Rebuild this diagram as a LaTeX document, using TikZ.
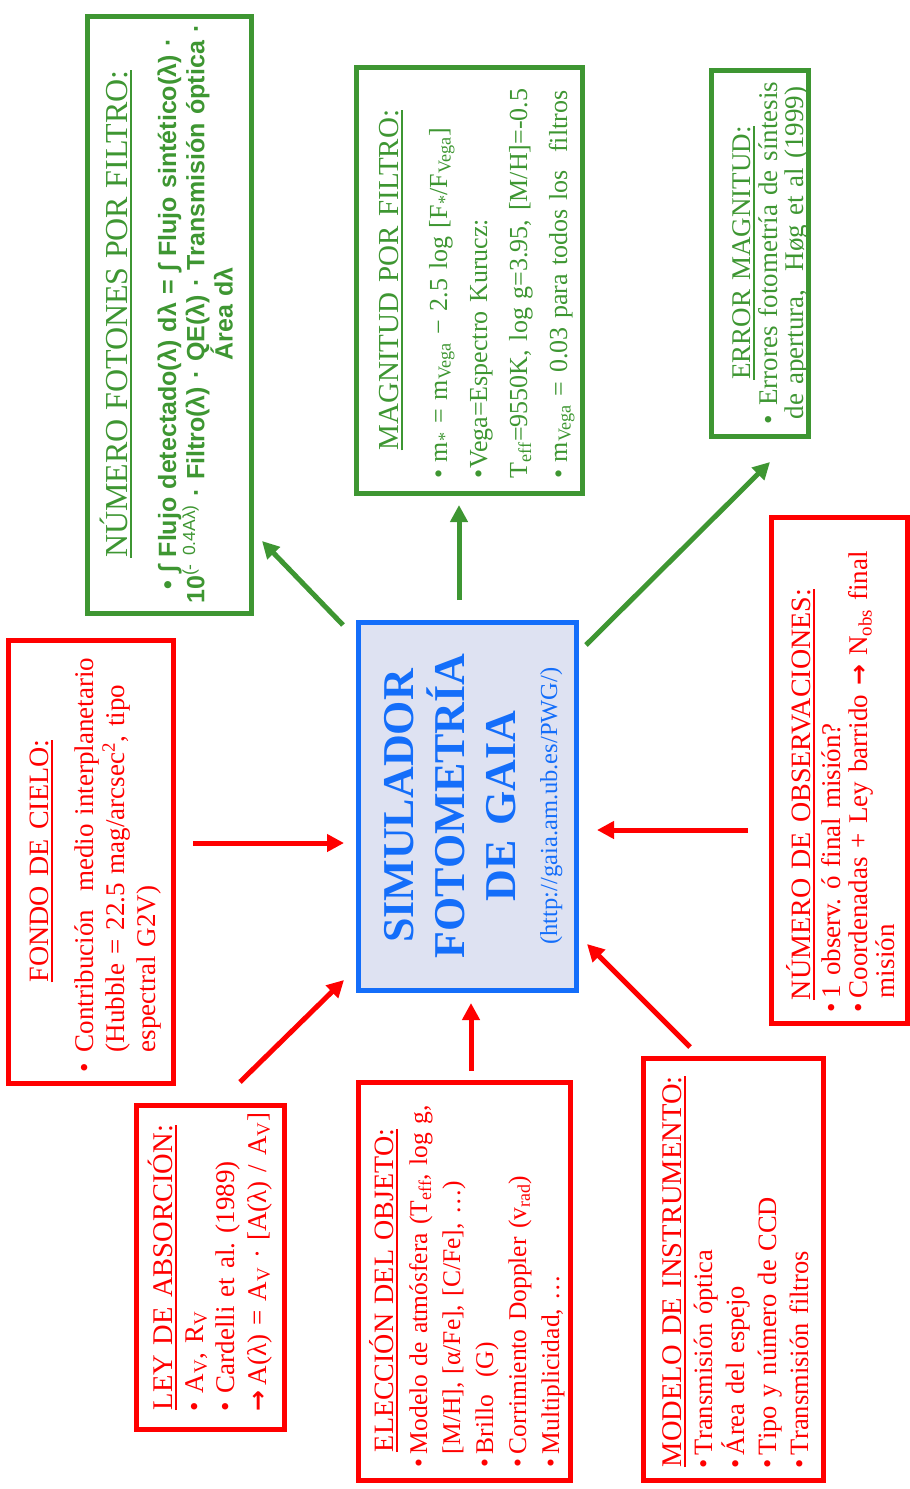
\documentclass[tikz,border=0pt]{standalone}
\usepackage{fontspec}
\setmainfont{Liberation Serif}
\newfontfamily\arialf{Liberation Sans}
\newfontfamily\dejavu{DejaVu Sans}
\usetikzlibrary{arrows.meta}
\definecolor{ggreen}{RGB}{62,150,50}
\definecolor{rred}{RGB}{255,0,0}
\definecolor{bblue}{RGB}{20,110,250}
\definecolor{bfill}{RGB}{222,226,242}
\newcommand\bu[1]{\makebox[#1][l]{•}}
\newcommand\fs[2]{\fontsize{#1}{#2}\selectfont}
\newcommand\arr{{\dejavu\bfseries\fontsize{25}{25}\selectfont →}}
\newcommand\ttl[1]{\leavevmode\setbox0\hbox{#1}\rlap{\raisebox{-4.5pt}{\rule{\wd0}{2pt}}}\copy0}
\frenchspacing
\begin{document}
\begin{tikzpicture}[x=1pt,y=-1pt,
  gbox/.style={draw=ggreen, line width=5pt, rectangle, inner sep=0pt},
  rbox/.style={draw=rred, line width=5pt, rectangle, inner sep=0pt},
  cbox/.style={draw=bblue, fill=bfill, line width=5pt, rectangle, inner sep=0pt},
  txt/.style={rotate=90, inner sep=0pt, outer sep=0pt},
  gtxt/.style={txt, text=ggreen},
  rtxt/.style={txt, text=rred},
  garrow/.style={draw=ggreen, line width=5pt, -{Triangle[length=17pt,width=17pt]}},
  rarrow/.style={draw=rred, line width=5pt, -{Triangle[length=17pt,width=17pt]}},
]
\useasboundingbox (0,0) rectangle (910,1489);

% boxes
\node[gbox, minimum width=164pt, minimum height=597pt] (num) at (169,314.5) {};
\node[gbox, minimum width=226pt, minimum height=426pt] (mag) at (469,280) {};
\node[gbox, minimum width=97pt, minimum height=366pt] (err) at (759.5,253) {};
\node[rbox, minimum width=165pt, minimum height=443pt] (fondo) at (90.5,861.5) {};
\node[rbox, minimum width=148pt, minimum height=324pt] (ley) at (210,1267) {};
\node[rbox, minimum width=212pt, minimum height=398pt] (elec) at (464,1281) {};
\node[rbox, minimum width=180pt, minimum height=422pt] (modelo) at (733,1269) {};
\node[rbox, minimum width=136pt, minimum height=506pt] (nobs) at (839,770) {};
\node[cbox, minimum width=218pt, minimum height=368pt] (center) at (467,806) {};

% texts
\node[gtxt, anchor=base, text width=580pt, align=center, font={\fs{25}{27}}] (numt) at (127,314)
 {{\fs{32}{32}\ttl{NÚMERO FOTONES POR FILTRO:}}\\[22pt]
  {\arialf\bfseries • ∫ Flujo detectado(λ) dλ = ∫ Flujo sintético(λ) ·\\
  10\textsuperscript{\mdseries(- 0.4Aλ)} · Filtro(λ) · QE(λ) · Transmisión óptica ·\\
  Área dλ}};

\node[gtxt, anchor=base, text width=420pt, align=center, font={\fs{29}{29}}] (magt) at (398,280)
 {\ttl{MAGNITUD POR FILTRO:}};
\node[gtxt, anchor=base west, text width=420pt, align=left, font={\fs{26}{40}}] (magb) at (447,478)
 {\bu{16pt}m\textsubscript{*} = m\textsubscript{Vega} − 2.5 log [F\textsubscript{*}/F\textsubscript{Vega}]\\
  •Vega=Espectro Kurucz:\\
  T\textsubscript{eff}=9550K, log g=3.95, [M/H]=-0.5\\
  \bu{16pt}m\textsubscript{Vega} = 0.03 para todos los~ filtros};

\node[gtxt, anchor=base, text width=360pt, align=center, font={\fs{27}{26}}] (errt) at (750,253)
 {\ttl{ERROR MAGNITUD:}\\[1pt]
  • Errores fotometría de síntesis\\
  de apertura,~ Høg et al (1999)};

\node[rtxt, anchor=base, text width=440pt, align=center, font={\fs{28}{31}}] (fondot) at (48,861)
 {\ttl{FONDO DE CIELO:}};
\node[rtxt, anchor=base west, text width=440pt, align=left, font={\fs{27}{31}}] (fondob) at (93,1072)
 {\bu{20pt}Contribución~ medio interplanetario\\
  \hspace*{20pt}(Hubble = 22.5 mag/arcsec\textsuperscript{2}, tipo\\
  \hspace*{20pt}espectral G2V)};

\node[rtxt, anchor=base west, text width=320pt, align=left, font={\fs{28.5}{31}}] (leyt) at (172,1410)
 {\ttl{LEY DE ABSORCIÓN:}};
\node[rtxt, anchor=base west, text width=320pt, align=left, font={\fs{27}{31.5}}] (leyb) at (203,1411)
 {\bu{18pt}A\textsubscript{V}, R\textsubscript{V}\\
  \bu{18pt}Cardelli et al. (1989)\\
  \makebox[26pt][l]{\arr}A(λ) = A\textsubscript{V} · [A(λ) / A\textsubscript{V}]};

\node[rtxt, anchor=base west, text width=390pt, align=left, font={\fs{28}{31}}] (elect) at (393,1452)
 {\ttl{ELECCIÓN DEL OBJETO:}};
\node[rtxt, anchor=base west, text width=390pt, align=left, font={\fs{25.5}{33}}] (elecb) at (427,1467)
 {\bu{13pt}Modelo de atmósfera (T\textsubscript{eff}, log g,\\
  \hspace*{13pt}[M/H], [α/Fe], [C/Fe], …)\\
  \bu{13pt}Brillo~ (G)\\
  \bu{13pt}Corrimiento Doppler (v\textsubscript{rad})\\
  \bu{13pt}Multiplicidad, …};

\node[rtxt, anchor=base west, text width=415pt, align=left, font={\fs{28.5}{31}}] (modelot) at (681,1467)
 {\ttl{MODELO DE INSTRUMENTO:}};
\node[rtxt, anchor=base west, text width=415pt, align=left, font={\fs{26.5}{32}}] (modelob) at (712,1468)
 {\bu{13pt}Transmisión óptica\\
  \bu{13pt}Área del espejo\\
  \bu{13pt}Tipo y número de CCD\\
  \bu{13pt}Transmisión filtros};

\node[rtxt, anchor=base west, text width=500pt, align=left, font={\fs{28}{31}}] (nobst) at (810,1000)
 {\ttl{NÚMERO DE OBSERVACIONES:}};
\node[rtxt, anchor=base west, text width=500pt, align=left, font={\fs{27}{27}}] (nobsb) at (840,1012)
 {\bu{14pt}1 observ. ó final misión?\\
  \bu{14pt}Coordenadas + Ley barrido \arr{} N\textsubscript{obs} final\\
  \hspace*{14pt}misión};

\node[txt, text=bblue, anchor=base, text width=368pt, align=center, font={\fs{44}{51}\bfseries}] (cent) at (413,806)
 {SIMULADOR\\ FOTOMETRÍA\\ DE GAIA\\[-9pt]
  {\mdseries\fs{24.5}{24}(http://gaia.am.ub.es/PWG/)}};

% arrow end points
\coordinate (a1s) at (343,625); \coordinate (a1e) at (262,541);
\coordinate (a2s) at (459,600); \coordinate (a2e) at (459,505);
\coordinate (a3s) at (586,645); \coordinate (a3e) at (770,462);
\coordinate (a4s) at (193,843); \coordinate (a4e) at (344,843);
\coordinate (a5s) at (240,1082); \coordinate (a5e) at (344,980);
\coordinate (a6s) at (471,1071); \coordinate (a6e) at (471,1003);
\coordinate (a7s) at (690,1047); \coordinate (a7e) at (587,944);
\coordinate (a8s) at (748,830); \coordinate (a8e) at (597,830);

\draw[garrow] (a1s) -- (a1e);
\draw[garrow] (a2s) -- (a2e);
\draw[garrow] (a3s) -- (a3e);
\draw[rarrow] (a4s) -- (a4e);
\draw[rarrow] (a5s) -- (a5e);
\draw[rarrow] (a6s) -- (a6e);
\draw[rarrow] (a7s) -- (a7e);
\draw[rarrow] (a8s) -- (a8e);
\end{tikzpicture}
\end{document}
